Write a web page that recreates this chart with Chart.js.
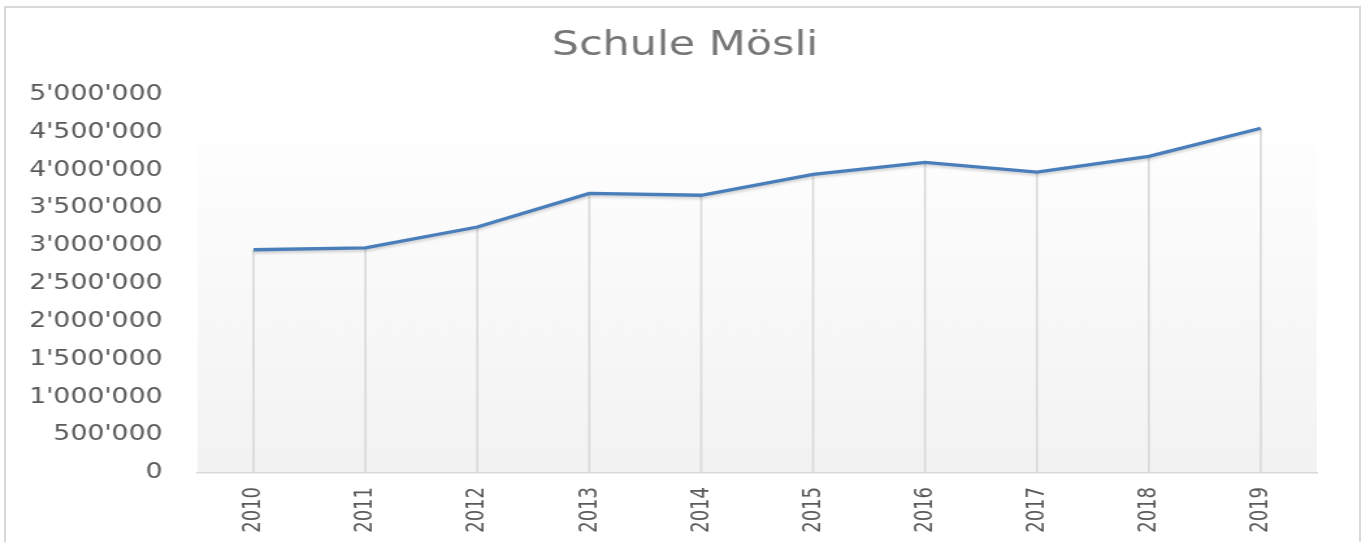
<!DOCTYPE html>
<html>
<head>
<meta charset="utf-8">
<script src="https://cdn.jsdelivr.net/npm/chart.js@4.4.0/dist/chart.umd.min.js"></script>
<style>
    html, body { margin: 0; padding: 0; background: #ffffff; }
    body { width: 1370px; height: 542px; overflow: hidden; position: relative; }
    #frame {
        position: absolute; left: 4px; top: 6px; width: 1357px; height: 600px;
        border: 2px solid #d9d9d9; box-sizing: border-box;
    }
    /* the reference is stretched sideways, so the whole chart is too */
    #wrap {
        position: absolute; left: 0; top: 0; width: 1054px; height: 542px;
        transform: scale(1.2998, 1); transform-origin: 0 0;
    }
</style>
</head>
<body>
<div id="frame"></div>
<div id="wrap"><canvas id="line-chart-moesli"></canvas></div>
<script>
    const years = ['2010', '2011', '2012', '2013', '2014', '2015', '2016', '2017', '2018', '2019'];
    const costs = [2950000, 2975000, 3250000, 3695000, 3670000, 3945000, 4105000, 3975000, 4185000, 4555000];
    const yMin = 0;
    const yMax = 5000000;
    const yStep = 500000;

    function swissNumber(value) {
        return value.toString().replace(/\B(?=(\d{3})+(?!\d))/g, "'");
    }

    // ------------------- Plot area background ------------------
    const plotBackground = {
        id: 'plotBackground',
        beforeDraw(chart) {
            const { ctx, chartArea } = chart;
            const top = chartArea.top + 0.13 * (chartArea.bottom - chartArea.top);
            const grad = ctx.createLinearGradient(0, top, 0, chartArea.bottom);
            grad.addColorStop(0, '#fefefe');
            grad.addColorStop(1, '#f2f2f2');
            ctx.save();
            ctx.fillStyle = grad;
            ctx.fillRect(chartArea.left, top, chartArea.right - chartArea.left, chartArea.bottom - top);
            ctx.restore();
        }
    };

    // ------------------- Drop lines ------------------
    const dropLines = {
        id: 'dropLines',
        beforeDatasetsDraw(chart) {
            const { ctx, chartArea } = chart;
            const meta = chart.getDatasetMeta(0);
            ctx.save();
            ctx.strokeStyle = '#d9d9d9';
            ctx.lineWidth = 1.6;
            meta.data.forEach(pt => {
                ctx.beginPath();
                ctx.moveTo(pt.x, pt.y);
                ctx.lineTo(pt.x, chartArea.bottom);
                ctx.stroke();
            });
            ctx.restore();
        },
        beforeDatasetDraw(chart) {
            const ctx = chart.ctx;
            ctx.save();
            ctx.shadowColor = 'rgba(0, 0, 0, 0.18)';
            ctx.shadowBlur = 3;
            ctx.shadowOffsetY = 2;
        },
        afterDatasetDraw(chart) {
            chart.ctx.restore();
        }
    };

    const data = {
        labels: years,
        datasets: [{
            label: 'Schule Mösli',
            data: costs,
            borderColor: '#4a7ebb',
            borderWidth: 3.3,
            pointRadius: 0,
            tension: 0,
            fill: false
        }]
    };

    // ------------------- Chart Options ------------------
    const chartOptions = {
        responsive: true,
        maintainAspectRatio: false,
        animation: false,
        layout: {
            padding: 0
        },
        plugins: {
            legend: { display: false },
            tooltip: { enabled: false },
            title: {
                display: true,
                text: 'Schule Mösli',
                color: '#767676',
                font: { family: 'DejaVu Sans', size: 33, weight: 'normal', lineHeight: 1.2 },
                padding: { top: 27, bottom: 28 }
            }
        },
        scales: {
            x: {
                offset: true,
                grid: { display: false, drawTicks: false },
                border: { display: true, color: '#d9d9d9', width: 1.6 },
                ticks: {
                    color: '#595959',
                    font: { family: "'Liberation Sans Narrow', 'DejaVu Sans Condensed'", size: 20 },
                    minRotation: 90,
                    maxRotation: 90,
                    padding: 14
                },
                afterFit(scale) { scale.height = 69; }
            },
            y: {
                min: yMin,
                max: yMax,
                grid: { display: false, drawTicks: false },
                border: { display: false },
                ticks: {
                    stepSize: yStep,
                    color: '#595959',
                    font: { family: 'DejaVu Sans', size: 20.5 },
                    padding: 27,
                    callback: value => swissNumber(value)
                },
                afterFit(scale) { scale.width = 152; }
            },
            // empty right-hand spacer so the plot ends where the reference's does
            spacer: {
                type: 'linear',
                position: 'right',
                grid: { display: false, drawTicks: false },
                border: { display: false },
                ticks: { display: false },
                afterFit(scale) { scale.width = 41; }
            }
        }
    };

    // ------------------- Chart Config ------------------
    const config = {
        type: 'line',
        data: data,
        options: chartOptions,
        plugins: [plotBackground, dropLines]
    };

    // ------------------- Initialize Chart ------------------
    const myChart = new Chart(
        document.getElementById('line-chart-moesli'),
        config
    );
</script>
</body>
</html>
